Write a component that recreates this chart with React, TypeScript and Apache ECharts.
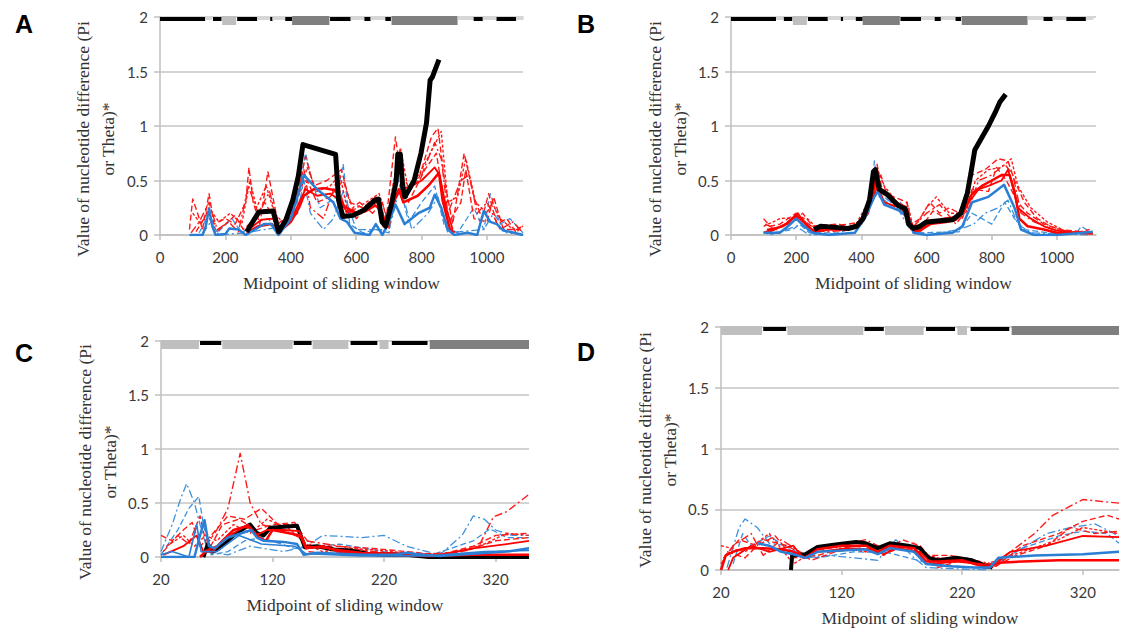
import React, { useEffect, useRef } from 'react';
import * as echarts from 'echarts';

type Pt = [number, number];

// ---- gene-region strip at y = 2: [start, end, kind] (0 black, 1 light gray, 2 dark gray, 3 pale)
const AB_segments: [number, number, number][] = [
  [0, 138, 0], [138, 160, 3], [162, 188, 0], [190, 233, 1], [236, 297, 0], [297, 336, 3],
  [337, 344, 0], [344, 383, 3], [383, 404, 0], [404, 518, 2], [520, 583, 0], [583, 624, 3],
  [625, 644, 0], [644, 689, 3], [689, 706, 0], [708, 910, 2], [910, 958, 3], [959, 987, 0],
  [987, 1028, 3], [1029, 1089, 0], [1089, 1112, 3],
];
const CD_segments: [number, number, number][] = [
  [20, 54, 1], [55, 74, 0], [75, 138, 1], [139, 155, 0], [156, 188, 1], [190, 214, 0],
  [216, 224, 1], [227, 259, 0], [261, 350, 2],
];

const AB_xTicks = [0, 200, 400, 600, 800, 1000];
const CD_xTicks = [20, 120, 220, 320];

// ---- Panel A
const A_black: Pt[] = [[265,0.03],[302,0.21],[346,0.22],[363,0.03],[385,0.14],[406,0.32],[423,0.54],[437,0.83],[537,0.74],[546,0.32],[559,0.17],[591,0.18],[624,0.23],[657,0.32],[668,0.33],[679,0.12],[690,0.08],[706,0.26],[722,0.49],[727,0.74],[735,0.74],[742,0.44],[749,0.35],[777,0.5],[798,0.75],[815,1.03],[826,1.42],[833,1.45],[853,1.61]];
const A_red1: Pt[] = [[265,0.02],[300,0.08],[340,0.1],[365,0.03],[400,0.12],[425,0.25],[440,0.36],[470,0.42],[500,0.43],[537,0.41],[564,0.26],[602,0.2],[630,0.22],[657,0.27],[670,0.25],[684,0.08],[711,0.26],[730,0.42],[744,0.3],[788,0.36],[820,0.45],[853,0.57],[864,0.32],[886,0.06],[900,0.02]];
const A_red2: Pt[] = [[270,0.05],[310,0.14],[345,0.15],[365,0.05],[410,0.2],[445,0.42],[480,0.36],[520,0.38],[545,0.33],[570,0.22],[610,0.2],[650,0.29],[668,0.3],[690,0.12],[720,0.35],[740,0.42],[770,0.45],[800,0.5],[840,0.62],[855,0.55],[875,0.25],[895,0.05]];
const A_blue: Pt[] = [[90,0],[130,0],[140,0.08],[150,0.24],[160,0.08],[170,0],[200,0.01],[212,0.06],[240,0.05],[262,0],[290,0.05],[318,0.1],[340,0.1],[362,0],[400,0.15],[420,0.35],[440,0.55],[480,0.42],[530,0.3],[552,0.15],[572,0.12],[595,0.02],[640,0],[660,0.1],[680,0],[700,0.12],[720,0.28],[748,0.1],[790,0.2],[825,0.25],[840,0.37],[860,0.25],[880,0.05],[900,0],[940,0.02],[970,0],[990,0.22],[1010,0.12],[1030,0.1],[1050,0.04],[1070,0.03],[1110,0]];
const A_redDash1: Pt[] = [[90,0.05],[100,0.33],[115,0.2],[130,0.05],[150,0.38],[165,0.1],[200,0.15],[230,0.1],[262,0.3],[272,0.62],[285,0.3],[305,0.1],[330,0.58],[345,0.35],[365,0.05],[410,0.25],[445,0.72],[470,0.45],[510,0.5],[555,0.6],[580,0.3],[620,0.25],[660,0.35],[690,0.1],[720,0.9],[745,0.35],[790,0.5],[830,0.9],[850,0.98],[870,0.5],[895,0.1],[930,0.75],[960,0.35],[985,0.15],[1005,0.38],[1030,0.1],[1060,0.15],[1090,0.02],[1110,0.1]];
const A_redDash2: Pt[] = [[95,0.02],[120,0.12],[150,0.3],[175,0.05],[210,0.12],[240,0.03],[270,0.45],[300,0.2],[335,0.4],[360,0.1],[400,0.2],[440,0.6],[460,0.25],[500,0.15],[540,0.5],[570,0.2],[610,0.3],[650,0.2],[680,0.3],[700,0.05],[725,0.6],[760,0.45],[800,0.55],[840,0.85],[860,0.7],[880,0.2],[920,0.5],[945,0.55],[970,0.2],[1000,0.3],[1040,0.05],[1080,0.12],[1110,0.02]];
const A_redDash3: Pt[] = [[110,0.03],[145,0.2],[170,0.02],[230,0.18],[255,0.05],[290,0.15],[320,0.3],[370,0.05],[420,0.2],[450,0.5],[480,0.3],[520,0.35],[560,0.5],[600,0.15],[650,0.3],[700,0.15],[730,0.7],[760,0.3],[810,0.6],[845,0.75],[880,0.1],[920,0.3],[935,0.6],[960,0.15],[1000,0.12],[1020,0.35],[1050,0.05],[1100,0.05]];
const A_redDash4: Pt[] = [[100,0.2],[125,0.1],[150,0.25],[180,0.12],[215,0.2],[250,0.1],[275,0.5],[295,0.25],[325,0.45],[350,0.2],[380,0.1],[430,0.4],[450,0.62],[480,0.4],[520,0.45],[550,0.55],[575,0.2],[630,0.3],[670,0.38],[695,0.15],[715,0.5],[735,0.8],[760,0.4],[800,0.6],[835,0.8],[860,0.95],[880,0.3],[910,0.35],[935,0.7],[965,0.3],[1000,0.2],[1015,0.3],[1040,0.15],[1080,0.05],[1110,0.08]];
const A_blueDash1: Pt[] = [[120,0.02],[150,0.2],[175,0.02],[220,0.15],[250,0.02],[300,0.12],[330,0.15],[370,0.02],[420,0.3],[445,0.75],[465,0.5],[490,0.25],[540,0.35],[560,0.65],[580,0.1],[620,0.02],[660,0.05],[700,0.02],[725,0.55],[760,0.12],[800,0.3],[840,0.45],[870,0.08],[910,0.02],[960,0.25],[990,0.05],[1010,0.38],[1040,0.1],[1070,0.15],[1110,0.02]];
const A_blueDash2: Pt[] = [[130,0.01],[155,0.12],[180,0],[260,0.02],[320,0.05],[380,0.08],[420,0.2],[440,0.5],[460,0.2],[500,0.05],[530,0.15],[560,0.4],[600,0.05],[700,0.05],[735,0.45],[770,0.05],[820,0.2],[850,0.35],[880,0.02],[990,0.05],[1020,0.2],[1060,0.02],[1110,0]];

// ---- Panel B
const B_black: Pt[] = [[255,0.05],[275,0.08],[320,0.07],[360,0.06],[385,0.08],[405,0.15],[425,0.32],[437,0.58],[443,0.6],[455,0.42],[480,0.37],[513,0.27],[535,0.24],[545,0.1],[560,0.06],[580,0.08],[600,0.12],[640,0.13],[680,0.14],[705,0.2],[725,0.38],[738,0.6],[748,0.78],[765,0.87],[790,1.0],[810,1.12],[825,1.22],[843,1.29]];
const B_red1: Pt[] = [[100,0.02],[130,0.05],[170,0.1],[200,0.18],[230,0.1],[255,0.03],[300,0.05],[350,0.05],[390,0.08],[420,0.2],[445,0.5],[460,0.4],[500,0.32],[540,0.22],[555,0.06],[580,0.04],[610,0.1],[660,0.12],[690,0.14],[715,0.22],[740,0.38],[770,0.45],[800,0.5],[830,0.55],[855,0.55],[870,0.4],[885,0.15],[910,0.08],[960,0.05],[1000,0.02],[1110,0.02]];
const B_red2: Pt[] = [[110,0.05],[160,0.08],[205,0.2],[240,0.05],[270,0.05],[340,0.06],[400,0.1],[430,0.3],[450,0.45],[470,0.3],[520,0.25],[548,0.15],[565,0.02],[600,0.08],[650,0.15],[700,0.17],[730,0.3],[760,0.42],[790,0.45],[830,0.5],[850,0.6],[860,0.5],[880,0.25],[920,0.15],[960,0.08],[1000,0.04],[1050,0.02],[1110,0.01]];
const B_blue: Pt[] = [[100,0.02],[150,0.02],[175,0.08],[200,0.15],[225,0.08],[250,0.02],[300,0],[380,0.02],[410,0.15],[440,0.35],[451,0.4],[470,0.28],[520,0.22],[545,0.15],[560,0.02],[600,0],[680,0.02],[710,0.08],[740,0.3],[790,0.35],[838,0.46],[870,0.25],[890,0.05],[930,0],[1000,0],[1080,0.02],[1110,0.03]];
const B_redDash1: Pt[] = [[100,0.15],[120,0.08],[150,0.1],[200,0.2],[230,0.12],[260,0.05],[300,0.08],[360,0.1],[400,0.12],[435,0.4],[448,0.65],[465,0.4],[500,0.35],[540,0.3],[555,0.1],[580,0.15],[610,0.3],[640,0.2],[670,0.25],[700,0.2],[740,0.55],[780,0.6],[820,0.7],[850,0.68],[870,0.5],[900,0.3],[940,0.15],[980,0.08],[1020,0.04],[1060,0.02],[1100,0.05]];
const B_redDash2: Pt[] = [[105,0.1],[140,0.05],[190,0.15],[215,0.18],[245,0.05],[290,0.03],[350,0.04],[410,0.15],[440,0.5],[460,0.55],[480,0.35],[530,0.2],[560,0.08],[600,0.2],[640,0.28],[690,0.1],[730,0.25],[760,0.5],[800,0.55],[840,0.65],[865,0.55],[890,0.2],[930,0.12],[990,0.05],[1050,0.03],[1100,0.01]];
const B_redDash3: Pt[] = [[120,0.03],[190,0.12],[220,0.2],[250,0.08],[330,0.1],[380,0.05],[425,0.25],[445,0.45],[470,0.3],[510,0.25],[540,0.3],[552,0.05],[590,0.1],[620,0.22],[660,0.15],[710,0.15],[740,0.42],[790,0.4],[815,0.62],[845,0.5],[880,0.3],[910,0.2],[960,0.1],[1010,0.05],[1110,0.02]];
const B_redDash4: Pt[] = [[100,0.08],[150,0.15],[200,0.16],[235,0.15],[265,0.06],[320,0.06],[380,0.08],[430,0.35],[450,0.6],[470,0.45],[510,0.3],[545,0.25],[560,0.05],[600,0.25],[630,0.35],[670,0.2],[720,0.2],[750,0.5],[790,0.6],[830,0.62],[860,0.7],[880,0.45],[920,0.25],[970,0.12],[1030,0.03],[1100,0.02]];
const B_blueDash1: Pt[] = [[110,0.01],[190,0.05],[210,0.1],[240,0.02],[330,0.02],[400,0.1],[430,0.4],[440,0.68],[455,0.35],[480,0.3],[520,0.3],[550,0.1],[580,0.02],[700,0.03],[740,0.2],[770,0.15],[800,0.1],[840,0.3],[870,0.15],[900,0.05],[1000,0.01],[1060,0.02],[1075,0.08],[1090,0.05],[1110,0.02]];
const B_blueDash2: Pt[] = [[120,0],[200,0.08],[240,0],[380,0.02],[420,0.2],[445,0.55],[470,0.35],[510,0.25],[550,0.05],[600,0],[700,0.05],[745,0.1],[780,0.2],[820,0.25],[850,0.32],[880,0.1],[920,0.02],[1100,0]];

// ---- Panel C
const C_black: Pt[] = [[58,0],[62,0.12],[66,0.05],[72,0.08],[85,0.2],[95,0.27],[100,0.3],[106,0.22],[112,0.2],[118,0.27],[130,0.28],[142,0.29],[149,0.09],[160,0.1],[175,0.07],[190,0.06],[205,0.03],[220,0.02],[240,0.02],[260,0],[300,0],[350,0]];
const C_red1: Pt[] = [[55,0],[60,0.05],[66,0.05],[75,0.15],[85,0.25],[95,0.28],[100,0.27],[108,0.18],[114,0.15],[120,0.25],[135,0.22],[145,0.2],[150,0.08],[165,0.1],[180,0.05],[200,0.03],[230,0.02],[260,0.01],[300,0.02],[350,0.02]];
const C_red2: Pt[] = [[22,0.02],[40,0.1],[52,0.2],[58,0.05],[70,0.1],[85,0.22],[98,0.3],[105,0.2],[115,0.25],[130,0.25],[144,0.24],[150,0.1],[170,0.08],[200,0.04],[240,0.03],[270,0.02],[300,0.08],[330,0.12],[350,0.15]];
const C_blue: Pt[] = [[20,0],[50,0],[55,0.2],[59,0.34],[63,0.1],[68,0.08],[80,0.18],[92,0.22],[101,0.25],[106,0.18],[112,0.15],[130,0.14],[142,0.12],[148,0.02],[160,0.04],[180,0.03],[200,0.02],[230,0.02],[240,0.04],[255,0.02],[270,0.01],[300,0.03],[330,0.05],[350,0.08]];
const C_blue2: Pt[] = [[20,0.02],[30,0.05],[45,0],[52,0.3],[56,0.05],[70,0.05],[90,0.2],[110,0.12],[140,0.1],[150,0.03],[200,0.01],[260,0.01],[310,0.05],[350,0.06]];
const C_redDash1: Pt[] = [[60,0.1],[70,0.25],[80,0.45],[91,0.96],[100,0.5],[110,0.3],[130,0.25],[150,0.15],[180,0.1],[210,0.05],[250,0.02],[290,0.05],[305,0.1],[318,0.37],[330,0.42],[350,0.58]];
const C_redDash2: Pt[] = [[20,0.2],[30,0.15],[40,0.25],[48,0.32],[55,0.1],[65,0.2],[80,0.38],[95,0.35],[110,0.45],[125,0.3],[140,0.3],[155,0.1],[175,0.1],[210,0.08],[240,0.05],[270,0.02],[300,0.1],[320,0.2],[350,0.22]];
const C_redDash3: Pt[] = [[22,0.05],[35,0.2],[45,0.12],[55,0.38],[62,0.05],[75,0.3],[90,0.35],[105,0.25],[120,0.3],[140,0.32],[152,0.05],[170,0.03],[200,0.06],[230,0.03],[260,0.01],[295,0.06],[320,0.15],[350,0.18]];
const C_redDash4: Pt[] = [[25,0.1],[40,0.2],[50,0.1],[60,0.2],[70,0.15],[85,0.3],[100,0.22],[115,0.35],[135,0.26],[150,0.12],[165,0.05],[190,0.08],[220,0.06],[250,0.02],[280,0.03],[310,0.12],[330,0.22],[350,0.2]];
const C_blueDash1: Pt[] = [[20,0.05],[30,0.3],[38,0.55],[43,0.68],[50,0.5],[55,0.3],[62,0.05],[80,0.02],[100,0.1],[130,0.05],[150,0.1],[165,0.2],[200,0.18],[220,0.2],[240,0.1],[270,0.02],[290,0.2],[300,0.38],[310,0.35],[320,0.25],[335,0.2],[350,0.2]];
const C_blueDash2: Pt[] = [[20,0.02],[35,0.25],[45,0.45],[54,0.56],[58,0.3],[65,0.02],[80,0.05],[95,0.15],[110,0.18],[140,0.08],[180,0.12],[220,0.05],[260,0.01],[300,0.15],[315,0.26],[330,0.18],[350,0.18]];

// ---- Panel D
const D_black: Pt[] = [[78,0],[79,0.12],[90,0.13],[100,0.19],[115,0.21],[132,0.23],[140,0.22],[150,0.18],[160,0.22],[175,0.2],[185,0.18],[192,0.1],[200,0.08],[215,0.1],[228,0.08],[238,0.04],[245,0.02]];
const D_red1: Pt[] = [[20,0],[24,0.12],[30,0.15],[40,0.18],[55,0.18],[70,0.17],[80,0.15],[90,0.1],[100,0.17],[120,0.2],[140,0.2],[150,0.15],[160,0.2],[180,0.18],[190,0.07],[200,0.07],[220,0.08],[240,0.02],[250,0.06],[270,0.07],[300,0.08],[350,0.08]];
const D_red2: Pt[] = [[26,0],[30,0.1],[45,0.2],[60,0.15],[80,0.2],[88,0.1],[100,0.15],[125,0.18],[145,0.17],[155,0.13],[165,0.18],[185,0.15],[195,0.05],[215,0.07],[235,0.05],[245,0.03],[260,0.15],[290,0.2],[320,0.28],[350,0.27]];
const D_blue: Pt[] = [[50,0.22],[60,0.2],[70,0.15],[80,0.13],[90,0.1],[100,0.15],[120,0.16],[140,0.17],[150,0.13],[160,0.18],[180,0.15],[190,0.05],[210,0.03],[230,0.02],[243,0.02],[250,0.1],[280,0.12],[320,0.13],[350,0.15]];
const D_redDash1: Pt[] = [[20,0.05],[30,0.2],[45,0.3],[55,0.12],[70,0.25],[90,0.12],[110,0.18],[140,0.25],[160,0.15],[180,0.22],[200,0.05],[220,0.1],[245,0.05],[260,0.15],[280,0.3],[295,0.45],[320,0.58],[350,0.55]];
const D_redDash2: Pt[] = [[22,0.1],[35,0.25],[50,0.2],[65,0.28],[80,0.1],[100,0.12],[130,0.2],[150,0.2],[175,0.18],[190,0.12],[210,0.12],[230,0.08],[248,0.03],[270,0.2],[300,0.3],[320,0.4],[340,0.45],[350,0.42]];
const D_redDash3: Pt[] = [[25,0.15],[40,0.1],[55,0.25],[75,0.2],[95,0.08],[115,0.15],[135,0.18],[155,0.12],[170,0.25],[185,0.2],[200,0.02],[225,0.1],[245,0.02],[265,0.12],[290,0.2],[310,0.35],[330,0.3],[350,0.32]];
const D_redDash4: Pt[] = [[20,0.2],[40,0.15],[60,0.3],[80,0.05],[105,0.2],[140,0.15],[160,0.2],[200,0.1],[240,0.05],[270,0.15],[300,0.25],[320,0.35],[350,0.3]];
const D_blueDash1: Pt[] = [[25,0.02],[35,0.35],[40,0.42],[50,0.35],[60,0.22],[75,0.2],[90,0.1],[110,0.12],[150,0.08],[165,0.25],[180,0.1],[190,0.02],[240,0],[260,0.12],[290,0.3],[310,0.35],[330,0.38],[350,0.28]];
const D_blueDash2: Pt[] = [[30,0.05],[38,0.3],[45,0.2],[60,0.28],[80,0.15],[100,0.1],[130,0.15],[160,0.14],[195,0.05],[240,0.01],[270,0.18],[300,0.28],[320,0.32],[340,0.3],[350,0.22]];

const Y_NAME = 'Value of nucleotide difference (Pi\nor Theta)*';
const X_NAME = 'Midpoint of sliding window';

const lineStyles: Record<string, any> = {
  black: { color: '#000000', width: 5 },
  blackThin: { color: '#000000', width: 4 },
  red: { color: '#ff0000', width: 2.5 },
  redThin: { color: '#ff0000', width: 1.8 },
  blue: { color: '#2a7fd4', width: 2.5 },
  blueThin: { color: '#2a7fd4', width: 1.6 },
  redDash: { color: '#ff1a1a', width: 1.4, type: [6, 3] },
  redDashDot: { color: '#ff1a1a', width: 1.4, type: [8, 3, 2, 3] },
  redDot: { color: '#ff1a1a', width: 1.4, type: [3, 2] },
  blueDash: { color: '#3d90de', width: 1.3, type: [6, 3] },
  blueDashDot: { color: '#3d90de', width: 1.3, type: [8, 3, 2, 3] },
};

const segStyles: Record<number, { fill: string; dy: number; h: number }> = {
  0: { fill: '#000000', dy: 0, h: 4 },
  1: { fill: '#bfbfbf', dy: -1, h: 9 },
  2: { fill: '#7f7f7f', dy: -1, h: 9 },
  3: { fill: '#d6d6d6', dy: -1, h: 4 },
};

const panels = [
  {
    letter: 'A', letterPos: [24, 24], yNamePos: [95, 139],
    grid: { left: 160, top: 17, width: 363, height: 218 },
    xMin: 0, xMax: 1110, ticks: AB_xTicks, segs: AB_segments,
    lines: [
      [A_blueDash1, 'blueDash'], [A_blueDash2, 'blueDashDot'], [A_redDash1, 'redDash'],
      [A_redDash2, 'redDashDot'], [A_redDash3, 'redDash'], [A_redDash4, 'redDot'], [A_red2, 'redThin'], [A_red1, 'red'],
      [A_blue, 'blue'], [A_black, 'black'],
    ],
  },
  {
    letter: 'B', letterPos: [586, 24], yNamePos: [667, 139],
    grid: { left: 731, top: 17, width: 365, height: 218 },
    xMin: 0, xMax: 1120, ticks: AB_xTicks, segs: AB_segments,
    lines: [
      [B_blueDash1, 'blueDash'], [B_blueDash2, 'blueDashDot'], [B_redDash1, 'redDash'],
      [B_redDash2, 'redDashDot'], [B_redDash3, 'redDash'], [B_redDash4, 'redDot'], [B_red2, 'redThin'], [B_red1, 'red'],
      [B_blue, 'blue'], [B_black, 'black'],
    ],
  },
  {
    letter: 'C', letterPos: [24, 353], yNamePos: [97, 462],
    grid: { left: 161, top: 341, width: 368, height: 216 },
    xMin: 20, xMax: 350, ticks: CD_xTicks, segs: CD_segments,
    lines: [
      [C_blueDash1, 'blueDashDot'], [C_blueDash2, 'blueDash'], [C_redDash1, 'redDashDot'],
      [C_redDash2, 'redDash'], [C_redDash3, 'redDash'], [C_redDash4, 'redDot'], [C_black, 'blackThin'],
      [C_red2, 'redThin'], [C_red1, 'red'], [C_blue2, 'blueThin'], [C_blue, 'blue'],
    ],
  },
  {
    letter: 'D', letterPos: [586, 352], yNamePos: [657, 450],
    grid: { left: 721, top: 327, width: 398, height: 243 },
    xMin: 20, xMax: 350, ticks: CD_xTicks, segs: CD_segments,
    lines: [
      [D_blueDash1, 'blueDashDot'], [D_blueDash2, 'blueDash'], [D_redDash1, 'redDashDot'],
      [D_redDash2, 'redDash'], [D_redDash3, 'redDash'], [D_redDash4, 'redDot'], [D_black, 'blackThin'],
      [D_red2, 'redThin'], [D_red1, 'red'], [D_blue, 'blue'],
    ],
  },
];

const AXIS_GRAY = '#bfbfbf';
const LABEL_COLOR = '#3a3a3a';

function buildOption() {
  const grid: any[] = [];
  const xAxis: any[] = [];
  const yAxis: any[] = [];
  const series: any[] = [];
  const graphic: any[] = [];

  panels.forEach((p, i) => {
    grid.push({ ...p.grid, containLabel: false });
    xAxis.push({
      type: 'value', gridIndex: i, min: p.xMin, max: p.xMax,
      axisLine: { show: true, onZero: false, lineStyle: { color: AXIS_GRAY, width: 1.5 } },
      axisTick: { show: true, length: 5, customValues: p.ticks, lineStyle: { color: AXIS_GRAY, width: 1.5 } },
      axisLabel: {
        customValues: p.ticks, margin: 14, fontFamily: 'Lato', fontSize: 15, color: LABEL_COLOR,
        formatter: (v: number) => String(v),
      },
      splitLine: { show: false },
      name: X_NAME, nameLocation: 'middle', nameGap: 39,
      nameTextStyle: { fontFamily: 'Liberation Serif', fontSize: 17.5, color: '#333333' },
    });
    yAxis.push({
      type: 'value', gridIndex: i, min: 0, max: 2, interval: 0.5,
      axisLine: { show: true, lineStyle: { color: AXIS_GRAY, width: 1.5 } },
      axisTick: { show: true, length: 6, lineStyle: { color: AXIS_GRAY, width: 1.5 } },
      axisLabel: { margin: 12, fontFamily: 'Lato', fontSize: 15, color: LABEL_COLOR, formatter: (v: number) => String(v) },
      splitLine: { show: true, lineStyle: { color: '#c4c4c4', width: 1.5 } },
    });

    p.lines.forEach(([data, styleKey]: any, k: number) => {
      series.push({
        type: 'line', name: `${p.letter}-${k}`, xAxisIndex: i, yAxisIndex: i,
        data, showSymbol: false, symbol: 'none', silent: true,
        lineStyle: { ...lineStyles[styleKey], join: 'round' },
      });
    });

    series.push({
      type: 'custom', name: `${p.letter}-regions`, xAxisIndex: i, yAxisIndex: i,
      data: p.segs, encode: { x: [0, 1] }, silent: true, z: 5,
      renderItem: (_params: any, api: any) => {
        const s = api.value(0);
        const e = api.value(1);
        const k = api.value(2);
        const p0 = api.coord([s, 2]);
        const p1 = api.coord([e, 2]);
        const st = segStyles[k];
        return {
          type: 'rect',
          shape: { x: p0[0], y: p0[1] + st.dy, width: p1[0] - p0[0], height: st.h },
          style: { fill: st.fill },
        };
      },
    });

    graphic.push({
      type: 'text', x: p.letterPos[0], y: p.letterPos[1],
      style: {
        text: p.letter, fontFamily: 'Liberation Sans', fontWeight: 'bold', fontSize: 25,
        fill: '#000000', align: 'center', verticalAlign: 'middle',
      },
    });
    graphic.push({
      type: 'text', x: p.yNamePos[0], y: p.yNamePos[1], rotation: Math.PI / 2,
      style: {
        text: Y_NAME, fontFamily: 'Liberation Serif', fontSize: 17.5, lineHeight: 25,
        fill: '#333333', align: 'center', verticalAlign: 'middle',
      },
    });
  });

  return { animation: false, backgroundColor: '#ffffff', grid, xAxis, yAxis, series, graphic };
}

export default function App() {
  const ref = useRef<HTMLDivElement>(null);
  useEffect(() => {
    document.body.style.margin = '0';
    if (!ref.current) return;
    const chart = echarts.init(ref.current, undefined, { renderer: 'svg' });
    chart.setOption(buildOption() as any);
    return () => chart.dispose();
  }, []);
  return (
    <div
      ref={ref}
      style={{ position: 'absolute', left: 0, top: 0, width: 1128, height: 628, background: '#fff' }}
    />
  );
}
